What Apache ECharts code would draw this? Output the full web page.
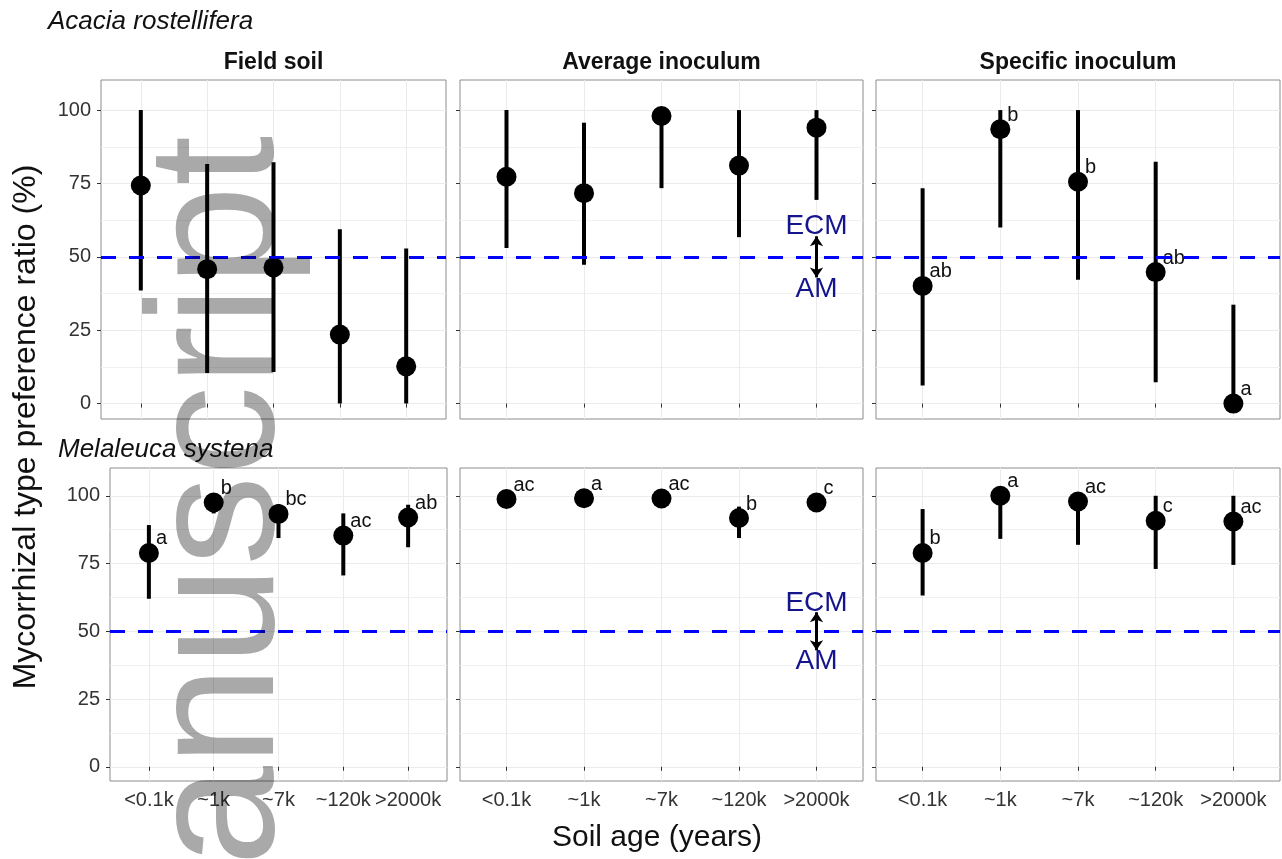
<!DOCTYPE html>
<html>
<head>
<meta charset="utf-8">
<title>Mycorrhizal type preference ratio</title>
<script src="https://cdn.jsdelivr.net/npm/echarts@6/dist/echarts.min.js"></script>
<style>
  html, body { margin: 0; padding: 0; background: #fff; }
  #chart { width: 1282px; height: 859px; }
  /* watermark layer (zlevel 1) is multiplied onto the chart below it */
  #chart canvas[data-zr-dom-id="zr_1"] { mix-blend-mode: multiply; }
</style>
</head>
<body>
<div id="chart"></div>
<script>
// categories and tick values
const ageLabels = ['<0.1k', '~1k', '~7k', '~120k', '>2000k'];
const agePositions = [1, 2, 3, 4, 5];
const yTicks = [0, 25, 50, 75, 100];
const yMinorTicks = [12.5, 37.5, 62.5, 87.5];
const panelTitles = ['Field soil', 'Average inoculum', 'Specific inoculum'];
const speciesNames = ['Acacia rostellifera', 'Melaleuca systena'];

// Acacia rostellifera
const acaciaFieldMean = [74.3, 45.8, 46.4, 23.5, 12.7];
const acaciaFieldLow = [38.5, 10.4, 10.8, 0, 0];
const acaciaFieldHigh = [100, 81.6, 82.2, 59.4, 52.8];
const acaciaFieldLetters = null;

const acaciaAverageMean = [77.3, 71.7, 98.0, 81.1, 94.0];
const acaciaAverageLow = [53.0, 47.3, 73.4, 56.7, 69.4];
const acaciaAverageHigh = [100, 95.7, 100, 100, 100];
const acaciaAverageLetters = null;

const acaciaSpecificMean = [40.1, 93.5, 75.6, 44.8, 0];
const acaciaSpecificLow = [6.2, 60.0, 42.2, 7.3, 0];
const acaciaSpecificHigh = [73.4, 100, 100, 82.4, 33.7];
const acaciaSpecificLetters = ['ab', 'b', 'b', 'ab', 'a'];

// Melaleuca systena
const melaleucaFieldMean = [78.9, 97.5, 93.3, 85.3, 92.0];
const melaleucaFieldLow = [62.0, 93.5, 84.4, 70.6, 81.0];
const melaleucaFieldHigh = [89.2, 100, 96.9, 93.5, 96.7];
const melaleucaFieldLetters = ['a', 'b', 'bc', 'ac', 'ab'];

const melaleucaAverageMean = [98.8, 99.1, 99.0, 91.8, 97.5];
const melaleucaAverageLow = [97.5, 98.0, 98.0, 84.4, 94.5];
const melaleucaAverageHigh = [100, 100, 100, 96.0, 100];
const melaleucaAverageLetters = ['ac', 'a', 'ac', 'b', 'c'];

const melaleucaSpecificMean = [78.9, 100, 97.9, 90.8, 90.5];
const melaleucaSpecificLow = [63.2, 84.1, 81.9, 73.0, 74.5];
const melaleucaSpecificHigh = [95.1, 100, 100, 100, 100];
const melaleucaSpecificLetters = ['b', 'a', 'ac', 'c', 'ac'];

// ECM / AM annotation in the middle panels
const thresholdValue = 50;
const annotationLabels = ['ECM', 'AM'];
const annotationY = [60.5, 38.8];
const annotationX = 5;
const arrowEnds = [57, 43];

const panels = [
  { mean: acaciaFieldMean, low: acaciaFieldLow, high: acaciaFieldHigh, letters: acaciaFieldLetters },
  { mean: acaciaAverageMean, low: acaciaAverageLow, high: acaciaAverageHigh, letters: acaciaAverageLetters, note: true },
  { mean: acaciaSpecificMean, low: acaciaSpecificLow, high: acaciaSpecificHigh, letters: acaciaSpecificLetters },
  { mean: melaleucaFieldMean, low: melaleucaFieldLow, high: melaleucaFieldHigh, letters: melaleucaFieldLetters },
  { mean: melaleucaAverageMean, low: melaleucaAverageLow, high: melaleucaAverageHigh, letters: melaleucaAverageLetters, note: true },
  { mean: melaleucaSpecificMean, low: melaleucaSpecificLow, high: melaleucaSpecificHigh, letters: melaleucaSpecificLetters },
];

const gridBoxes = [
  { left: 101, top: 80, width: 345, height: 339 },
  { left: 460, top: 80, width: 403, height: 339 },
  { left: 876, top: 80, width: 404, height: 339 },
  { left: 110, top: 468, width: 337, height: 313 },
  { left: 460, top: 468, width: 403, height: 313 },
  { left: 876, top: 468, width: 404, height: 313 },
];

const FONT = '"Liberation Sans", Arial, sans-serif';
const GRID_COLOR = '#ebebeb';
const TICK_COLOR = '#333333';
const LABEL_COLOR = '#333333';

const chart = echarts.init(document.getElementById('chart'), null, { renderer: 'canvas' });

const grids = gridBoxes.map((box) => ({
  ...box,
  show: true,
  borderColor: '#8c8c8c',
  borderWidth: 1,
  backgroundColor: 'transparent',
}));

const xAxes = gridBoxes.map((box, i) => ({
  type: 'value',
  gridIndex: i,
  min: 0.4,
  max: 5.6,
  axisLine: { show: false },
  axisTick: { show: true, length: 4, customValues: agePositions, lineStyle: { color: TICK_COLOR } },
  axisLabel: {
    show: i >= 3,
    customValues: agePositions,
    formatter: (v) => ageLabels[Math.round(v) - 1],
    color: LABEL_COLOR,
    fontSize: 20,
    fontFamily: FONT,
    margin: 9,
  },
  splitLine: { show: true, lineStyle: { color: GRID_COLOR, width: 1 } },
}));

const majorY = gridBoxes.map((box, i) => ({
  type: 'value',
  gridIndex: i,
  position: 'left',
  min: -5.25,
  max: 110.25,
  axisLine: { show: false },
  axisTick: { show: true, length: 4, customValues: yTicks, lineStyle: { color: TICK_COLOR } },
  axisLabel: {
    show: i % 3 === 0,
    customValues: yTicks,
    color: LABEL_COLOR,
    fontSize: 20,
    fontFamily: FONT,
    margin: 10,
  },
  splitLine: { show: true, lineStyle: { color: GRID_COLOR, width: 1 } },
}));

const minorY = gridBoxes.map((box, i) => ({
  type: 'value',
  gridIndex: i,
  position: 'left',
  min: -5.25,
  max: 110.25,
  axisLine: { show: false },
  axisTick: { show: false, customValues: yMinorTicks },
  axisLabel: { show: false, customValues: yMinorTicks },
  splitLine: { show: true, lineStyle: { color: '#f0f0f0', width: 1 } },
}));

const series = [];
panels.forEach((p, i) => {
  // dashed 50% reference line
  series.push({
    type: 'line',
    xAxisIndex: i,
    yAxisIndex: i,
    data: [],
    z: 2,
    markLine: {
      silent: true,
      symbol: 'none',
      label: { show: false },
      lineStyle: { color: '#0000ff', width: 3, type: [15, 13] },
      data: [{ yAxis: thresholdValue }],
    },
  });

  // error bars
  series.push({
    type: 'custom',
    xAxisIndex: i,
    yAxisIndex: i,
    z: 3,
    data: agePositions.map((x, k) => [x, p.low[k], p.high[k]]),
    renderItem: (params, api) => {
      const a = api.coord([api.value(0), api.value(1)]);
      const b = api.coord([api.value(0), api.value(2)]);
      return {
        type: 'line',
        shape: { x1: a[0], y1: a[1], x2: b[0], y2: b[1] },
        style: { stroke: '#000', lineWidth: 4 },
      };
    },
  });

  // points with letters
  series.push({
    type: 'scatter',
    xAxisIndex: i,
    yAxisIndex: i,
    z: 4,
    symbol: 'circle',
    symbolSize: 20,
    itemStyle: { color: '#000', opacity: 1 },
    data: agePositions.map((x, k) => [x, p.mean[k]]),
    label: {
      show: !!p.letters,
      position: [17, -4],
      align: 'left',
      verticalAlign: 'middle',
      formatter: (d) => (p.letters ? p.letters[d.dataIndex] : ''),
      color: '#111',
      fontSize: 20,
      fontFamily: FONT,
    },
  });

  if (p.note) {
    series.push({
      type: 'scatter',
      xAxisIndex: i,
      yAxisIndex: i,
      z: 5,
      symbolSize: 1,
      itemStyle: { color: 'rgba(0,0,0,0)', opacity: 1 },
      data: annotationLabels.map((t, k) => [annotationX, annotationY[k]]),
      label: {
        show: true,
        position: 'inside',
        formatter: (d) => annotationLabels[d.dataIndex],
        color: '#14148c',
        opacity: 1,
        textBorderWidth: 0,
        fontSize: 28,
        fontFamily: FONT,
      },
      markLine: {
        silent: true,
        symbol: ['arrow', 'arrow'],
        symbolSize: [10, 10],
        label: { show: false },
        lineStyle: { color: '#000', width: 3, type: 'solid', opacity: 1 },
        data: [[{ coord: [annotationX, arrowEnds[0]] }, { coord: [annotationX, arrowEnds[1]] }]],
      },
    });
  }
});

const texts = [];
panelTitles.forEach((t, j) => {
  const box = gridBoxes[j];
  texts.push({
    type: 'text',
    x: box.left + box.width / 2,
    y: 63,
    style: { text: t, font: 'bold 23px ' + FONT, fill: '#111', textAlign: 'center', textVerticalAlign: 'middle' },
  });
});
texts.push({
  type: 'text', x: 48, y: 22,
  style: { text: speciesNames[0], font: 'italic 26px ' + FONT, fill: '#111', textAlign: 'left', textVerticalAlign: 'middle' },
});
texts.push({
  type: 'text', x: 58, y: 450,
  style: { text: speciesNames[1], font: 'italic 26px ' + FONT, fill: '#111', textAlign: 'left', textVerticalAlign: 'middle' },
});
texts.push({
  type: 'text', x: 657, y: 838,
  style: { text: 'Soil age (years)', font: '30px ' + FONT, fill: '#111', textAlign: 'center', textVerticalAlign: 'middle' },
});
texts.push({
  type: 'text', x: 26, y: 427, rotation: Math.PI / 2,
  style: { text: 'Mycorrhizal type preference ratio (%)', font: '32px ' + FONT, fill: '#111', textAlign: 'center', textVerticalAlign: 'middle' },
});
// grey watermark running up the left side, on its own layer
texts.push({
  type: 'text', x: 223, y: 866, rotation: Math.PI / 2, zlevel: 1,
  style: { text: 'anuscript', font: '180px ' + FONT, fill: '#a9a9a9', textAlign: 'left', textVerticalAlign: 'middle' },
});

chart.setOption({
  animation: false,
  backgroundColor: '#ffffff',
  grid: grids,
  xAxis: xAxes,
  yAxis: majorY.concat(minorY),
  series: series,
  graphic: { elements: texts },
});
</script>
</body>
</html>
